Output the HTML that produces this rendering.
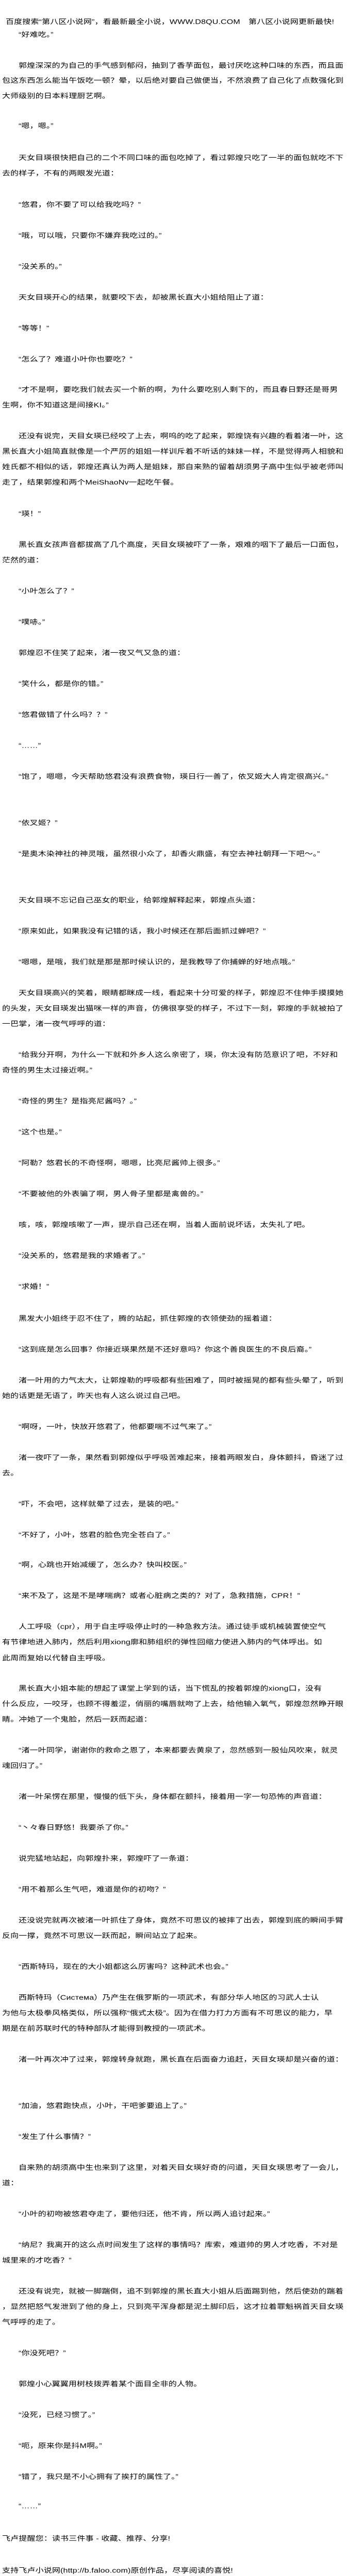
<!DOCTYPE html>
<html><head><meta charset="utf-8">
<style>
html,body{margin:0;padding:0;background:#fff;width:700px;height:5090px;overflow:hidden;}
body{position:relative;font-family:"Liberation Sans","Noto Sans CJK SC",sans-serif;font-size:16px;color:#000;}
div{position:absolute;height:16px;line-height:16px;white-space:nowrap;letter-spacing:0.15px;transform:scaleY(0.82);transform-origin:0 50%;}
.p{left:36px;}
.c{left:4px;}
.h{left:11px;}
</style></head><body>
<div class="h" style="top:35px">百度搜索“第八区小说网”，看最新最全小说，WWW.D8QU.COM　第八区小说网更新最快!</div>
<div class="p" style="top:60px">“好难吃。”</div>
<div class="p" style="top:120px">郭煌深深的为自己的手气感到郁闷，抽到了香芋面包，最讨厌吃这种口味的东西，而且面</div>
<div class="c" style="top:149px">包这东西怎么能当午饭吃一顿？晕，以后绝对要自己做便当，不然浪费了自己化了点数强化到</div>
<div class="c" style="top:179px">大师级别的日本料理厨艺啊。</div>
<div class="p" style="top:237px">“嗯，嗯。”</div>
<div class="p" style="top:299px">天女目瑛很快把自己的二个不同口味的面包吃掉了，看过郭煌只吃了一半的面包就吃不下</div>
<div class="c" style="top:329px">去的样子，不有的两眼发光道：</div>
<div class="p" style="top:390px">“悠君，你不要了可以给我吃吗？”</div>
<div class="p" style="top:450px">“哦，可以哦，只要你不嫌弃我吃过的。”</div>
<div class="p" style="top:510px">“没关系的。”</div>
<div class="p" style="top:570px">天女目瑛开心的结果，就要咬下去，却被黑长直大小姐给阻止了道：</div>
<div class="p" style="top:630px">“等等！”</div>
<div class="p" style="top:690px">“怎么了？难道小叶你也要吃？”</div>
<div class="p" style="top:749px">“才不是啊，要吃我们就去买一个新的啊，为什么要吃别人剩下的，而且春日野还是哥男</div>
<div class="c" style="top:779px">生啊，你不知道这是间接KI。”</div>
<div class="p" style="top:839px">还没有说完，天目女瑛已经咬了上去，啊呜的吃了起来，郭煌饶有兴趣的看着渚一叶，这</div>
<div class="c" style="top:869px">黑长直大小姐简直就像是一个严厉的姐姐一样训斥着不听话的妹妹一样，不是觉得两人相貌和</div>
<div class="c" style="top:899px">姓氏都不相似的话，郭煌还真认为两人是姐妹，那自来熟的留着胡须男子高中生似乎被老师叫</div>
<div class="c" style="top:929px">走了，结果郭煌和两个MeiShaoNv一起吃午餐。</div>
<div class="p" style="top:990px">“瑛！”</div>
<div class="p" style="top:1050px">黑长直女孩声音都拔高了几个高度，天目女瑛被吓了一条，艰难的咽下了最后一口面包，</div>
<div class="c" style="top:1080px">茫然的道：</div>
<div class="p" style="top:1140px">“小叶怎么了？”</div>
<div class="p" style="top:1200px">“噗哧。”</div>
<div class="p" style="top:1260px">郭煌忍不住笑了起来，渚一夜又气又急的道：</div>
<div class="p" style="top:1320px">“笑什么，都是你的错。”</div>
<div class="p" style="top:1380px">“悠君做错了什么吗？？”</div>
<div class="p" style="top:1440px">“……”</div>
<div class="p" style="top:1500px">“饱了，嗯嗯，今天帮助悠君没有浪费食物，瑛日行一善了，依叉姬大人肯定很高兴。”</div>
<div class="p" style="top:1590px">“依叉姬？”</div>
<div class="p" style="top:1650px">“是奥木染神社的神灵哦，虽然很小众了，却香火鼎盛，有空去神社朝拜一下吧～。”</div>
<div class="p" style="top:1740px">天女目瑛不忘记自己巫女的职业，给郭煌解释起来，郭煌点头道：</div>
<div class="p" style="top:1800px">“原来如此，如果我没有记错的话，我小时候还在那后面抓过蝉吧？”</div>
<div class="p" style="top:1860px">“嗯嗯，是哦，我们就是那是那时候认识的，是我教导了你捕蝉的好地点哦。”</div>
<div class="p" style="top:1920px">天女目瑛高兴的笑着，眼睛都眯成一线，看起来十分可爱的样子，郭煌忍不住伸手摸摸她</div>
<div class="c" style="top:1950px">的头发，天女目瑛发出猫咪一样的声音，仿佛很享受的样子，不过下一刻，郭煌的手就被拍了</div>
<div class="c" style="top:1980px">一巴掌，渚一夜气呼呼的道：</div>
<div class="p" style="top:2040px">“给我分开啊，为什么一下就和外乡人这么亲密了，瑛，你太没有防范意识了吧，不好和</div>
<div class="c" style="top:2070px">奇怪的男生太过接近啊。”</div>
<div class="p" style="top:2130px">“奇怪的男生？是指亮尼酱吗？。”</div>
<div class="p" style="top:2190px">“这个也是。”</div>
<div class="p" style="top:2250px">“阿勒？悠君长的不奇怪啊，嗯嗯，比亮尼酱帅上很多。”</div>
<div class="p" style="top:2310px">“不要被他的外表骗了啊，男人骨子里都是禽兽的。”</div>
<div class="p" style="top:2370px">咳，咳，郭煌咳嗽了一声，提示自己还在啊，当着人面前说坏话，太失礼了吧。</div>
<div class="p" style="top:2430px">“没关系的，悠君是我的求婚者了。”</div>
<div class="p" style="top:2490px">“求婚！”</div>
<div class="p" style="top:2552px">黑发大小姐终于忍不住了，腾的站起，抓住郭煌的衣领使劲的摇着道：</div>
<div class="p" style="top:2612px">“这到底是怎么回事？你接近瑛果然是不还好意吗？你这个善良医生的不良后裔。”</div>
<div class="p" style="top:2672px">渚一叶用的力气太大，让郭煌勒的呼吸都有些困难了，同时被摇晃的都有些头晕了，听到</div>
<div class="c" style="top:2702px">她的话更是无语了，昨天也有人这么说过自己吧。</div>
<div class="p" style="top:2762px">“啊呀，一叶，快放开悠君了，他都要喘不过气来了。”</div>
<div class="p" style="top:2822px">渚一夜吓了一条，果然看到郭煌似乎呼吸苦难起来，接着两眼发白，身体颤抖，昏迷了过</div>
<div class="c" style="top:2852px">去。</div>
<div class="p" style="top:2912px">“吓，不会吧，这样就晕了过去，是装的吧。”</div>
<div class="p" style="top:2972px">“不好了，小叶，悠君的脸色完全苍白了。”</div>
<div class="p" style="top:3030px">“啊，心跳也开始减缓了，怎么办？快叫校医。”</div>
<div class="p" style="top:3090px">“来不及了，这是不是哮喘病？或者心脏病之类的？对了，急救措施，CPR！”</div>
<div class="p" style="top:3150px">人工呼吸（cpr），用于自主呼吸停止时的一种急救方法。通过徒手或机械装置使空气</div>
<div class="c" style="top:3180px">有节律地进入肺内，然后利用xiong廓和肺组织的弹性回缩力使进入肺内的气体呼出。如</div>
<div class="c" style="top:3211px">此周而复始以代替自主呼吸。</div>
<div class="p" style="top:3270px">黑长直大小姐本能的想起了课堂上学到的话，当下慌乱的按着郭煌的xiong口，没有</div>
<div class="c" style="top:3300px">什么反应，一咬牙，也顾不得羞涩，俏丽的嘴唇就吻了上去，给他输入氧气，郭煌忽然睁开眼</div>
<div class="c" style="top:3330px">睛。冲她了一个鬼脸，然后一跃而起道：</div>
<div class="p" style="top:3390px">“渚一叶同学，谢谢你的救命之恩了，本来都要去黄泉了，忽然感到一股仙风吹来，就灵</div>
<div class="c" style="top:3420px">魂回归了。”</div>
<div class="p" style="top:3480px">渚一叶呆愣在那里，慢慢的低下头，身体都在颤抖，接着用一字一句恐怖的声音道：</div>
<div class="p" style="top:3540px">“丶々春日野悠！我要杀了你。”</div>
<div class="p" style="top:3600px">说完猛地站起，向郭煌扑来，郭煌吓了一条道：</div>
<div class="p" style="top:3660px">“用不着那么生气吧，难道是你的初吻？”</div>
<div class="p" style="top:3720px">还没说完就再次被渚一叶抓住了身体，竟然不可思议的被摔了出去，郭煌到底的瞬间手臂</div>
<div class="c" style="top:3750px">反向一撑，竟然不可思议一跃而起，瞬间站立了起来。</div>
<div class="p" style="top:3810px">“西斯特玛，现在的大小姐都这么厉害吗？这种武术也会。”</div>
<div class="p" style="top:3870px">西斯特玛（Система）乃产生在俄罗斯的一项武术，有部分华人地区的习武人士认</div>
<div class="c" style="top:3900px">为他与太极拳风格类似，所以强称“俄式太极”。因为在借力打力方面有不可思议的能力，早</div>
<div class="c" style="top:3930px">期是在前苏联时代的特种部队才能得到教授的一项武术。</div>
<div class="p" style="top:3990px">渚一叶再次冲了过来，郭煌转身就跑，黑长直在后面奋力追赶，天目女瑛却是兴奋的道：</div>
<div class="p" style="top:4080px">“加油，悠君跑快点，小叶，干吧爹要追上了。”</div>
<div class="p" style="top:4140px">“发生了什么事情？”</div>
<div class="p" style="top:4200px">自来熟的胡须高中生也来到了这里，对着天目女瑛好奇的问道，天目女瑛思考了一会儿，</div>
<div class="c" style="top:4230px">道：</div>
<div class="p" style="top:4290px">“小叶的初吻被悠君夺走了，要他归还，他不肯，所以两人追讨起来。”</div>
<div class="p" style="top:4350px">“纳尼？我离开的这么点时间发生了这样的事情吗？库索，难道帅的男人才吃香，不对是</div>
<div class="c" style="top:4380px">城里来的才吃香？”</div>
<div class="p" style="top:4440px">还没有说完，就被一脚踹倒，追不到郭煌的黑长直大小姐从后面踢到他，然后使劲的踹着</div>
<div class="c" style="top:4470px">，显然把怒气发泄到了他的身上，只到亮平浑身都是泥土脚印后，这才拉着罪魁祸首天目女瑛</div>
<div class="c" style="top:4500px">气呼呼的走了。</div>
<div class="p" style="top:4560px">“你没死吧？”</div>
<div class="p" style="top:4620px">郭煌小心翼翼用树枝拨弄着某个面目全非的人物。</div>
<div class="p" style="top:4680px">“没死，已经习惯了。”</div>
<div class="p" style="top:4740px">“呃，原来你是抖M啊。”</div>
<div class="p" style="top:4800px">“错了，我只是不小心拥有了挨打的属性了。”</div>
<div class="p" style="top:4857px">“……”</div>
<div class="c" style="top:4920px">飞卢提醒您：读书三件事 - 收藏、推荐、分享!</div>
<div class="c" style="top:4982px">支持飞卢小说网(http://b.faloo.com)原创作品，尽享阅读的喜悦!</div>
<div class="h" style="top:5042px">百度搜索“第八区小说网”，看最新最全小说，WWW.D8QU.COM　第八区小说网更新最快!</div>
</body></html>
